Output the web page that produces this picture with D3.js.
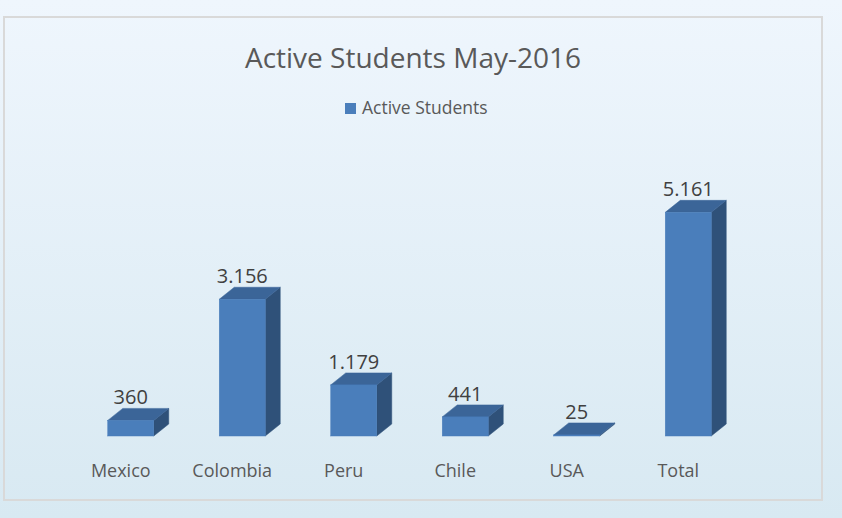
<!DOCTYPE html>
<html>
<head>
<meta charset="utf-8">
<script src="https://cdn.jsdelivr.net/npm/d3@7"></script>
<style>
html,body{margin:0;padding:0;background:#e6f0f8;}
svg{display:block;}
text{font-family:"Open Sans",sans-serif;}
</style>
</head>
<body>
<svg id="chart" width="842" height="518"></svg>
<script>
const categories = ["Mexico","Colombia","Peru","Chile","USA","Total"];
const values = [360, 3156, 1179, 441, 25, 5161];
const valueLabels = ["360","3.156","1.179","441","25","5.161"];
const seriesName = "Active Students";
const title = "Active Students May-2016";

const W = 842, H = 518;
const svg = d3.select("#chart");
const defs = svg.append("defs");
const g1 = defs.append("linearGradient").attr("id","bg").attr("x1",0).attr("y1",0).attr("x2",0).attr("y2",1);
g1.append("stop").attr("offset","0%").attr("stop-color","#eff6fd");
g1.append("stop").attr("offset","100%").attr("stop-color","#d8e9f2");

svg.append("rect").attr("width",W).attr("height",H).attr("fill","url(#bg)");
svg.append("rect").attr("x",4).attr("y",17).attr("width",818).attr("height",483)
  .attr("fill","none").attr("stroke","#d9d9d9").attr("stroke-width",2);

const x = d3.scaleBand().domain(categories).range([75,744]).paddingInner(0.5874).paddingOuter(0.2937);
const y = d3.scaleLinear().domain([0,6000]).range([436,176]);
const dx = 15, dy = 12;

svg.append("text").attr("x",413).attr("y",68).attr("text-anchor","middle")
  .attr("font-size",28).attr("fill","#595959").text(title);

const leg = svg.append("g");
leg.append("rect").attr("x",345).attr("y",103).attr("width",11).attr("height",11).attr("fill","#4a7ebb");
leg.append("text").attr("x",362).attr("y",114).attr("font-size",17.5).attr("fill","#595959").text(seriesName);

const data = categories.map((c,i)=>({c, v:values[i], label:valueLabels[i]}));
const bars = svg.append("g").selectAll("g").data(data).join("g");
bars.each(function(d){
  const gg = d3.select(this);
  const x0 = x(d.c), x1 = x0 + x.bandwidth();
  const yt = y(d.v), yb = y(0);
  gg.append("path").attr("d",`M${x1},${yb}L${x1+dx},${yb-dy}L${x1+dx},${yt-dy}L${x1},${yt}Z`)
    .attr("fill","#2f5179").attr("stroke","#2f5179").attr("stroke-width",0.5);
  gg.append("path").attr("d",`M${x0},${yt}L${x0+dx},${yt-dy}L${x1+dx},${yt-dy}L${x1},${yt}Z`)
    .attr("fill","#3b6598").attr("stroke","#3b6598").attr("stroke-width",0.5);
  gg.append("rect").attr("x",x0).attr("y",yt).attr("width",x.bandwidth()).attr("height",Math.max(0,yb-yt))
    .attr("fill","#4a7ebb").attr("stroke","#4a7ebb").attr("stroke-width",0.5);
  gg.append("text").attr("x",(x0+x1)/2).attr("y",yt-dy-4).attr("text-anchor","middle")
    .attr("font-size",20).attr("fill","#404040").text(d.label);
});

const xAxis = svg.append("g").attr("transform","translate(-10,0)");
xAxis.selectAll("text").data(categories).join("text")
  .attr("x",d=>x(d)+x.bandwidth()/2).attr("y",477).attr("text-anchor","middle")
  .attr("font-size",18).attr("fill","#595959").text(d=>d);
</script>
</body>
</html>
